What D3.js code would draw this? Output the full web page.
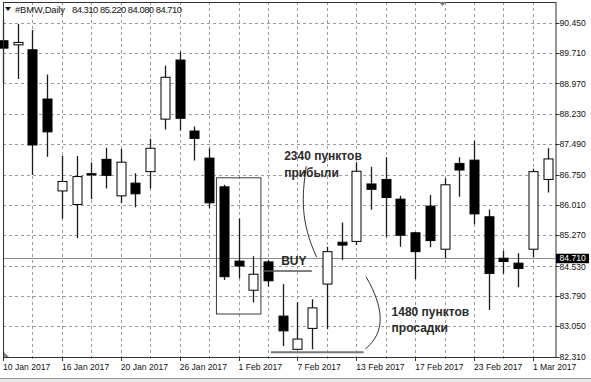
<!DOCTYPE html>
<html>
<head>
<meta charset="utf-8">
<script src="https://cdn.jsdelivr.net/npm/d3@7"></script>
<style>
  body { margin: 0; background: #fff; }
  svg { display: block; font-family: "Liberation Sans", Arial, sans-serif; }
  .grid line { stroke: #9a9a9a; stroke-dasharray: 3,3; shape-rendering: crispEdges; }
  .lbl { font-size: 8.6px; fill: #111; }
  .hdr { font-size: 9.4px; fill: #111; }
  .note { font-size: 12px; font-weight: bold; fill: #2a2a2a; }
</style>
</head>
<body>
<svg id="chart" width="591" height="382"></svg>
<script>
// daily candles, #BMW
const days = ["2017-01-10","2017-01-11","2017-01-12","2017-01-13","2017-01-16","2017-01-17","2017-01-18","2017-01-19","2017-01-20",
  "2017-01-23","2017-01-24","2017-01-25","2017-01-26","2017-01-27","2017-01-30","2017-01-31","2017-02-01","2017-02-02","2017-02-03",
  "2017-02-06","2017-02-07","2017-02-08","2017-02-09","2017-02-10","2017-02-13","2017-02-14","2017-02-15","2017-02-16","2017-02-17",
  "2017-02-20","2017-02-21","2017-02-22","2017-02-23","2017-02-24","2017-02-27","2017-02-28","2017-03-01","2017-03-02"];
const opens  = [90.01,89.91,89.79,88.59,86.35,86.02,86.77,87.12,86.23,86.54,86.82,88.10,89.54,87.81,87.15,86.45,84.64,83.93,84.62,
  83.30,82.49,83.00,84.08,85.10,85.12,86.52,86.63,86.15,85.33,85.98,84.93,87.02,87.10,85.72,84.71,84.59,84.93,86.63];
const highs  = [90.52,90.42,90.27,89.19,87.20,87.20,87.04,87.40,87.37,86.78,87.62,89.40,89.74,87.92,87.39,86.50,85.68,84.76,84.67,
  84.08,83.64,83.71,84.99,85.58,87.05,86.94,87.17,86.23,85.35,86.25,86.66,87.17,87.57,85.90,84.89,84.83,86.89,87.39];
const lows   = [88.98,89.08,86.74,87.18,85.67,85.20,86.15,86.41,86.05,85.95,86.41,87.85,87.82,87.09,85.93,84.18,84.22,83.63,84.02,
  82.57,82.47,82.49,82.98,84.67,85.03,85.89,85.22,84.99,84.20,84.98,84.71,86.21,85.54,83.45,84.33,84.00,84.73,86.31];
const closes = [89.83,89.97,87.47,87.79,86.58,86.70,86.74,86.73,87.05,86.28,87.39,89.12,88.12,87.63,86.06,84.26,84.52,84.32,84.16,
  82.94,82.74,83.50,84.87,85.03,86.83,86.39,86.19,85.27,84.87,85.14,86.50,86.86,85.79,84.34,84.63,84.46,86.82,87.13];
const priceTicks = [90.45,89.71,88.97,88.23,87.49,86.75,86.01,85.27,84.53,83.79,83.05,82.31];
const dateTicks = ["2017-01-10","2017-01-16","2017-01-20","2017-01-26","2017-02-01","2017-02-07","2017-02-13","2017-02-17","2017-02-23","2017-03-01"];
const lastPrice = 84.71;
const symbol = "#BMW,Daily";
const headerOHLC = "84.310 85.220 84.080 84.710";

const svg = d3.select("#chart");
const W = 591, H = 382;
const plot = { left: 3, right: 555.5, top: 2, bottom: 357 };

const x = d3.scalePoint().domain(days).range([3, 3 + 14.72 * (days.length - 1)]);
const xi = i => 3 + x.step() * i; // fractional index, for annotations
const y = d3.scaleLinear().domain([82.31, 90.45]).range([356.7, 22.7]);
const fmtDate = d3.timeFormat("%-d %b %Y");
const parse = d3.timeParse("%Y-%m-%d");

svg.append("defs").append("clipPath").attr("id", "clip")
  .append("rect").attr("x", 0).attr("y", plot.top).attr("width", plot.right).attr("height", plot.bottom - plot.top);

// grid
const grid = svg.append("g").attr("class", "grid");
grid.selectAll(".h").data(priceTicks).enter().append("line")
  .attr("x1", plot.left).attr("x2", plot.right + 4)
  .attr("y1", d => Math.round(y(d)) + 0.5).attr("y2", d => Math.round(y(d)) + 0.5);
grid.selectAll(".v").data(days.filter((d, i) => i % 2 === 0 && i > 0)).enter().append("line")
  .attr("x1", d => Math.round(x(d)) + 0.5).attr("x2", d => Math.round(x(d)) + 0.5)
  .attr("y1", plot.top).attr("y2", plot.bottom + 4);

// current price line
svg.append("line")
  .attr("x1", plot.left).attr("x2", plot.right)
  .attr("y1", Math.round(y(lastPrice)) + 0.5).attr("y2", Math.round(y(lastPrice)) + 0.5)
  .attr("stroke", "#8c8c8c").attr("stroke-width", 1);

// candles
const bw = 9;
const cg = svg.append("g").attr("clip-path", "url(#clip)");
const bars = cg.selectAll(".candle").data(days).enter().append("g").attr("class", "candle");
bars.append("line")
  .attr("x1", d => Math.round(x(d)) + 0.5).attr("x2", d => Math.round(x(d)) + 0.5)
  .attr("y1", (d, i) => y(highs[i])).attr("y2", (d, i) => y(lows[i]))
  .attr("stroke", "#1a1a1a").attr("stroke-width", 1.3);
bars.append("rect")
  .attr("x", d => Math.round(x(d)) - bw / 2 + 0.5)
  .attr("y", (d, i) => y(Math.max(opens[i], closes[i])))
  .attr("width", bw)
  .attr("height", (d, i) => Math.max(1, Math.abs(y(opens[i]) - y(closes[i]))))
  .attr("fill", (d, i) => closes[i] >= opens[i] ? "#fff" : "#000")
  .attr("stroke", "#000").attr("stroke-width", 1);

// frame
svg.append("rect")
  .attr("x", plot.left + 0.5).attr("y", plot.top + 0.5)
  .attr("width", plot.right - plot.left).attr("height", plot.bottom - plot.top)
  .attr("fill", "none").attr("stroke", "#333").attr("stroke-width", 1);
svg.append("path").attr("d", `M${plot.left + 1},${plot.bottom - 5} L${plot.left + 1},${plot.bottom} L${plot.left + 6},${plot.bottom} Z`)
  .attr("fill", "#888");

// annotations
const ann = svg.append("g").attr("fill", "none");
ann.append("rect")
  .attr("x", xi(14.5)).attr("y", y(86.67))
  .attr("width", xi(17.52) - xi(14.5)).attr("height", y(83.35) - y(86.67))
  .attr("stroke", "#3a3a3a").attr("stroke-width", 1);
ann.append("line")
  .attr("x1", xi(17.7)).attr("x2", xi(20.98)).attr("y1", y(84.40)).attr("y2", y(84.40))
  .attr("stroke", "#555").attr("stroke-width", 1.5);
ann.append("line")
  .attr("x1", xi(18.2)).attr("x2", xi(24.5)).attr("y1", y(82.42)).attr("y2", y(82.42))
  .attr("stroke", "#777").attr("stroke-width", 2);
ann.append("path")
  .attr("d", `M${xi(21.3)},${y(84.74)} C${xi(20.2)},${y(85.6)} ${xi(20.3)},${y(86.2)} ${xi(20.6)},${y(86.95)}`)
  .attr("stroke", "#333").attr("stroke-width", 1);
ann.append("path")
  .attr("d", `M${xi(24.66)},${y(84.26)} C${xi(25.9)},${y(83.5)} ${xi(26.0)},${y(82.9)} ${xi(24.62)},${y(82.5)}`)
  .attr("stroke", "#333").attr("stroke-width", 1);

svg.append("text").attr("class", "note").attr("x", xi(18.9)).attr("y", y(84.55)).text("BUY");
svg.append("text").attr("class", "note").attr("x", xi(19.1)).attr("y", y(87.1)).text("2340 пунктов");
svg.append("text").attr("class", "note").attr("x", xi(19.1)).attr("y", y(86.70)).text("прибыли");
svg.append("text").attr("class", "note").attr("x", xi(26.4)).attr("y", y(83.3)).text("1480 пунктов");
svg.append("text").attr("class", "note").attr("x", xi(26.4)).attr("y", y(82.92)).text("просадки");

// right price axis
const ra = svg.append("g");
ra.selectAll("line").data(priceTicks).enter().append("line")
  .attr("x1", plot.right).attr("x2", plot.right + 4)
  .attr("y1", d => Math.round(y(d)) + 0.5).attr("y2", d => Math.round(y(d)) + 0.5)
  .attr("stroke", "#333");
ra.selectAll("text").data(priceTicks).enter().append("text")
  .attr("class", "lbl").attr("x", 559.5)
  .attr("y", d => y(d) + 3.1 + (Math.abs(d - lastPrice) < 0.3 ? 1.6 : 0))
  .text(d => d3.format(".3f")(d));
ra.append("rect").attr("x", plot.right + 0.5).attr("y", y(lastPrice) - 4.5)
  .attr("width", 33).attr("height", 9.5).attr("fill", "#000");
ra.append("text").attr("class", "lbl").attr("x", 559.5).attr("y", y(lastPrice) + 3)
  .style("fill", "#fff").text(d3.format(".3f")(lastPrice));

// bottom date axis
const ba = svg.append("g");
ba.selectAll("line").data(dateTicks).enter().append("line")
  .attr("x1", d => Math.round(x(d)) + 0.5).attr("x2", d => Math.round(x(d)) + 0.5)
  .attr("y1", plot.bottom).attr("y2", plot.bottom + 4).attr("stroke", "#333");
ba.selectAll("text").data(dateTicks).enter().append("text")
  .attr("class", "lbl").attr("x", d => x(d)).attr("y", 370)
  .text(d => fmtDate(parse(d)));

// header + shift marker
svg.append("path").attr("d", "M5,7 L11,7 L8,11 Z").attr("fill", "#111");
svg.append("text").attr("class", "hdr").attr("x", 15).attr("y", 13)
  .attr("textLength", 50).attr("lengthAdjust", "spacing").text(symbol);
svg.append("text").attr("class", "hdr").attr("x", 72).attr("y", 13)
  .attr("textLength", 110).attr("lengthAdjust", "spacing").text(headerOHLC);
svg.append("path").attr("d", "M439,2 L446,2 L442.5,6 Z").attr("fill", "#777");

// window bottom edge
svg.append("line").attr("x1", 0).attr("x2", W).attr("y1", 378.5).attr("y2", 378.5)
  .attr("stroke", "#9a9a9a").attr("stroke-width", 1);
svg.append("rect").attr("x", 0).attr("y", 379).attr("width", W).attr("height", 3).attr("fill", "#e6e6e6");
</script>
</body>
</html>
